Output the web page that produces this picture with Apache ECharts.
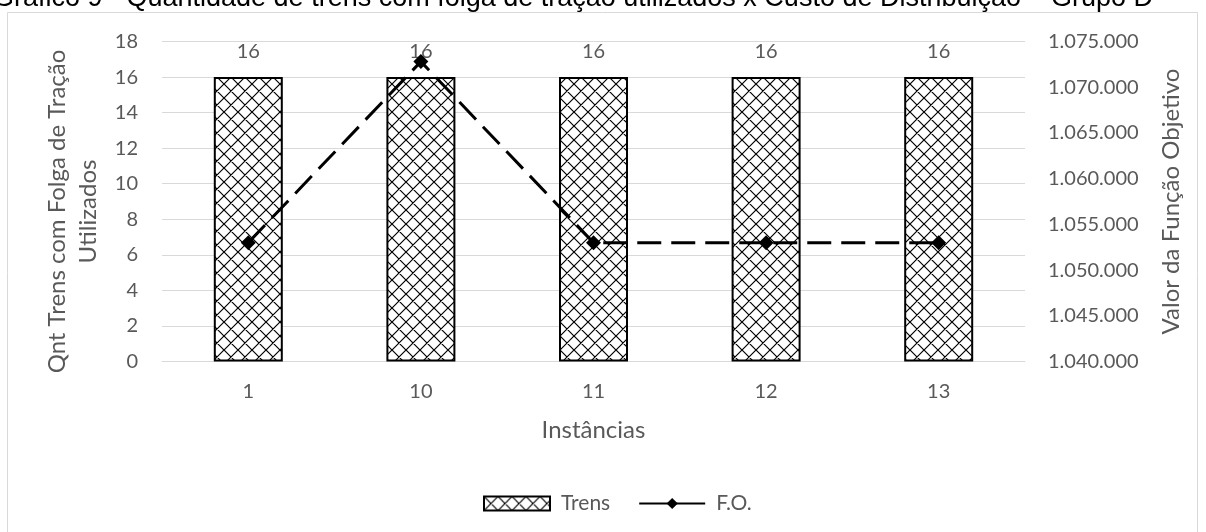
<!DOCTYPE html>
<html>
<head>
<meta charset="utf-8">
<title>Gráfico 9</title>
<script src="https://cdn.jsdelivr.net/npm/echarts@6/dist/echarts.min.js"></script>
<style>
  html, body { margin: 0; padding: 0; background: #ffffff; }
  #chart { width: 1206px; height: 532px; }
</style>
</head>
<body>
<div id="chart"></div>
<script>
// Chart data
const chartTitle = 'Gráfico 9 - Quantidade de trens com folga de tração utilizados x Custo de Distribuição – Grupo D';
const instancias = ['1', '10', '11', '12', '13'];
const trens = [16, 16, 16, 16, 16];
const funcaoObjetivo = [1053000, 1072800, 1053000, 1053000, 1053000];
const leftAxisName = 'Qnt Trens com Folga de Tração\nUtilizados';
const rightAxisName = 'Valor da Função Objetivo';
const xAxisName = 'Instâncias';
const seriesNames = ['Trens', 'F.O.'];

const TEXT = '#595959';
const GRID = '#d9d9d9';
const FONT = 'Lato';

// Diagonal cross-hatch fill used by the bars
function crossHatch(size) {
  const c = document.createElement('canvas');
  c.width = size; c.height = size;
  const g = c.getContext('2d');
  g.fillStyle = '#ffffff';
  g.fillRect(0, 0, size, size);
  g.strokeStyle = '#000000';
  g.lineWidth = 1.2;
  g.beginPath();
  for (const o of [-size, 0, size]) {
    g.moveTo(o, 0); g.lineTo(o + size, size);
    g.moveTo(o + size, 0); g.lineTo(o, size);
  }
  g.stroke();
  return c;
}
const hatch = { image: crossHatch(14), repeat: 'repeat' };

function thousands(v) {
  return String(Math.round(v)).replace(/\B(?=(\d{3})+(?!\d))/g, '.');
}

const chart = echarts.init(document.getElementById('chart'), null, { renderer: 'canvas' });

chart.setOption({
  backgroundColor: '#ffffff',
  animation: false,
  textStyle: { fontFamily: FONT },
  graphic: [
    {
      type: 'rect',
      silent: true,
      shape: { x: 7.5, y: 12.5, width: 1190, height: 540 },
      style: { fill: 'none', stroke: GRID, lineWidth: 1 }
    },
    {
      type: 'text',
      silent: true,
      style: {
        text: chartTitle,
        x: 573, y: 12,
        align: 'center',
        verticalAlign: 'bottom',
        font: '27px "Liberation Sans", Arial, sans-serif',
        fill: '#000000'
      }
    }
  ],
  grid: { left: 162, right: 181, top: 41.5, bottom: 170.5, containLabel: false },
  legend: {
    left: 478,
    top: 488,
    itemWidth: 66,
    itemHeight: 14,
    itemGap: 28,
    textStyle: { color: TEXT, fontSize: 21, fontFamily: FONT, padding: [0, 0, 0, 6] },
    data: [
      { name: seriesNames[0], icon: 'rect' },
      { name: seriesNames[1], lineStyle: { type: 'solid' } }
    ]
  },
  xAxis: {
    type: 'category',
    data: instancias,
    name: xAxisName,
    nameLocation: 'middle',
    nameGap: 57,
    nameTextStyle: { color: TEXT, fontSize: 24, fontFamily: FONT },
    axisLine: { lineStyle: { color: GRID, width: 1 } },
    axisTick: { show: false },
    axisLabel: { color: TEXT, fontSize: 20, margin: 20, fontFamily: FONT }
  },
  yAxis: [
    {
      type: 'value',
      min: 0, max: 18, interval: 2,
      name: leftAxisName,
      nameLocation: 'middle',
      nameGap: 58,
      nameTextStyle: { color: TEXT, fontSize: 24, lineHeight: 31, fontFamily: FONT, padding: [0, 20, 0, 0] },
      axisLine: { show: false },
      axisTick: { show: false },
      axisLabel: { color: TEXT, fontSize: 20, margin: 24, fontFamily: FONT },
      splitLine: { lineStyle: { color: GRID, width: 1 } }
    },
    {
      type: 'value',
      position: 'right',
      min: 1040000, max: 1075000, interval: 5000,
      name: rightAxisName,
      nameLocation: 'middle',
      nameGap: 134,
      nameTextStyle: { color: TEXT, fontSize: 24, fontFamily: FONT },
      axisLine: { show: false },
      axisTick: { show: false },
      axisLabel: { color: TEXT, fontSize: 20, margin: 23, fontFamily: FONT, formatter: thousands },
      splitLine: { show: false }
    }
  ],
  series: [
    {
      name: seriesNames[0],
      type: 'bar',
      yAxisIndex: 0,
      data: trens,
      barWidth: 69,
      itemStyle: { color: hatch, borderColor: '#000000', borderWidth: 2 },
      label: {
        show: true,
        position: 'top',
        distance: 16,
        color: TEXT,
        fontSize: 20,
        fontFamily: FONT
      },
      z: 2
    },
    {
      name: seriesNames[1],
      type: 'line',
      yAxisIndex: 1,
      data: funcaoObjetivo,
      symbol: 'diamond',
      symbolSize: 15,
      itemStyle: { color: '#000000' },
      lineStyle: { color: '#000000', width: 3, type: [24, 10], cap: 'butt' },
      z: 3
    }
  ]
});
</script>
</body>
</html>
